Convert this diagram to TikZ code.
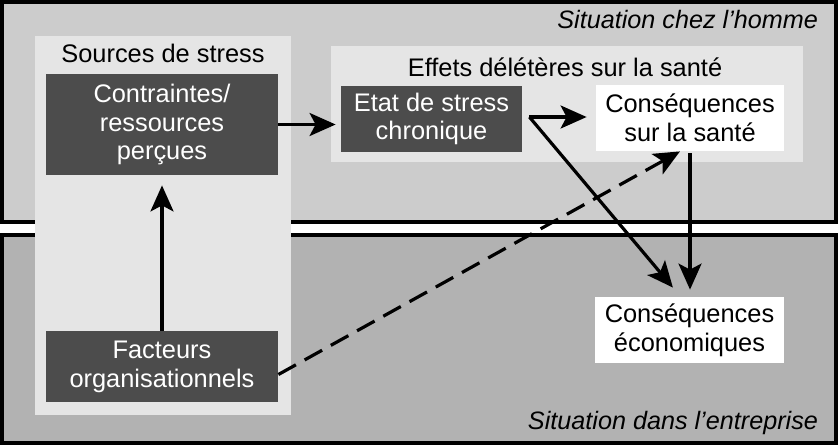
\documentclass[tikz,border=0pt]{standalone}
\usepackage{fontspec}
\setmainfont{Liberation Sans}
\usepackage{tikz}
\usetikzlibrary{arrows.meta}
\definecolor{hommegray}{gray}{0.8}
\definecolor{entrgray}{gray}{0.7}
\definecolor{panelgray}{gray}{0.9}
\definecolor{boxgray}{gray}{0.3}
\tikzset{darkbox/.style={fill=boxgray, text=white, align=center, inner sep=0}}
\tikzset{whitebox/.style={fill=white, text=black, align=center, inner sep=0}}
\tikzset{arr/.style={black, line width=1.6pt, -{Stealth[length=13pt,width=11.5pt,inset=3pt]}}}

\begin{document}
\begin{tikzpicture} [x=.5pt, y=-.5pt, font=\fontsize{12.7}{14.4}\selectfont]
\useasboundingbox (0,0) rectangle (838,445);
\draw[line width=2pt, fill=hommegray] (2,2) rectangle (836,222);
\draw[line width=2pt, fill=entrgray] (2,235) rectangle (836,443);
\fill[panelgray] (35,36) rectangle (291,415);
\fill[panelgray] (331,46) rectangle (803,162);
\node[anchor=base east, font=\fontsize{12.6}{14.4}\selectfont\itshape] (homme) at (825,28) {Situation chez l’homme};
\node[anchor=base east, font=\fontsize{12.6}{14.4}\selectfont\itshape] (entr) at (825,429) {Situation dans l’entreprise};
\node[anchor=base] (sources) at (163,62) {Sources de stress};
\node[anchor=base] (effets) at (565,76) {Effets délétères sur la santé};
\node[darkbox, minimum width=116pt, minimum height=50.5pt] (contr) at (162,124.5) {Contraintes/\\ressources\\perçues};
\node[darkbox, minimum width=116pt, minimum height=35.5pt] (fact) at (162,366.5) {Facteurs\\organisationnels};
\node[darkbox, minimum width=90.5pt, minimum height=33pt] (etat) at (431.5,119) {Etat de stress\\chronique};
\node[whitebox, minimum width=94pt, minimum height=33pt] (sante) at (690,118) {Conséquences\\sur la santé};
\node[whitebox, minimum width=94.5pt, minimum height=33pt] (eco) at (689.5,330) {Conséquences\\économiques};
\coordinate (fork) at ([xshift=3.5pt,yshift=1pt]etat.east);
\draw[arr, shorten >=2.5pt] (contr.east) -- (contr.east -| etat.west);
\draw[arr, shorten >=5pt] (fact.north) -- (contr.south);
\draw[arr, shorten >=4.5pt] (fork) -- (fork -| sante.west);
\draw[arr, shorten >=5.9pt] (fork) -- ([xshift=-4.5pt]eco.north);
\draw[arr, shorten <=1pt, shorten >=3.5pt] (sante.south) -- (sante.south |- eco.north);
\draw[arr, dash pattern=on 10pt off 5pt] ([yshift=-4pt]fact.east) -- ([xshift=-5pt]sante.south);
\end{tikzpicture}
\end{document}
